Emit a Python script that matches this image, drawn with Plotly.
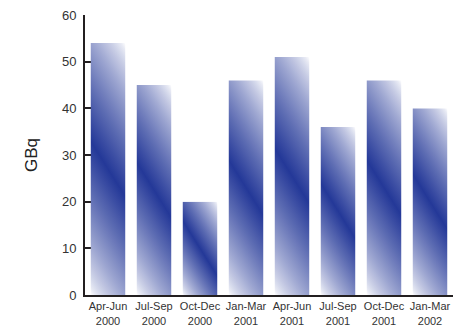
import base64
import plotly.graph_objects as go

# Quarterly activity, GBq
quarters = ["Apr-Jun<br>2000", "Jul-Sep<br>2000", "Oct-Dec<br>2000", "Jan-Mar<br>2001",
            "Apr-Jun<br>2001", "Jul-Sep<br>2001", "Oct-Dec<br>2001", "Jan-Mar<br>2002"]
gbq = [54, 45, 20, 46, 51, 36, 46, 40]
y_ticks = [0, 10, 20, 30, 40, 50, 60]

W, H = 455, 332
M = dict(l=85, r=2, t=15, b=37)
Y_MAX = 60
BAR_FRAC = 0.76
DARK = (36, 56, 152)
SLOPE = 1.6    # steepness of the colour bands across each bar
GAMMA = 0.75   # how long the fill stays blue before fading to the white corners

plot_w = W - M["l"] - M["r"]
plot_h = H - M["t"] - M["b"]
px_per_unit = plot_h / Y_MAX
cat_w = plot_w / len(quarters)


def stop_colour(t):
    mix = (1 - abs(2 * t - 1)) ** GAMMA
    r, g, b = (round(255 - mix * (255 - c)) for c in DARK)
    return f"rgb({r},{g},{b})"


STOPS = "".join(
    f'<stop offset="{i / 40:.3f}" stop-color="{stop_colour(i / 40)}"/>' for i in range(41)
)


def gradient_svg(w, h):
    # diagonal white -> dark blue -> white fill, white at bottom-left and top-right
    n = (SLOPE ** 2 + 1) ** 0.5
    ux, uy = SLOPE / n, -1 / n
    s = (SLOPE * w / 2 + h / 2) / n
    cx, cy = w / 2, h / 2
    x1, y1 = cx - s * ux, cy - s * uy
    x2, y2 = cx + s * ux, cy + s * uy
    svg = (
        f'<svg xmlns="http://www.w3.org/2000/svg" width="{w:.2f}" height="{h:.2f}" '
        f'viewBox="0 0 {w:.2f} {h:.2f}" preserveAspectRatio="none">'
        f'<defs><linearGradient id="g" gradientUnits="userSpaceOnUse" '
        f'x1="{x1:.2f}" y1="{y1:.2f}" x2="{x2:.2f}" y2="{y2:.2f}">{STOPS}'
        f'</linearGradient></defs>'
        f'<rect x="0" y="0" width="{w:.2f}" height="{h:.2f}" fill="url(#g)"/></svg>'
    )
    return "data:image/svg+xml;base64," + base64.b64encode(svg.encode()).decode()


fig = go.Figure()
fig.add_trace(go.Bar(
    x=list(range(len(quarters))), y=gbq,
    width=BAR_FRAC,
    marker=dict(color="rgba(0,0,0,0)", line=dict(width=0)),
    hovertemplate="%{y} GBq<extra></extra>",
))

images = []
for i, v in enumerate(gbq):
    images.append(dict(
        source=gradient_svg(BAR_FRAC * cat_w, v * px_per_unit),
        xref="x", yref="y",
        x=i - BAR_FRAC / 2, y=v,
        sizex=BAR_FRAC, sizey=v,
        xanchor="left", yanchor="top",
        sizing="stretch", layer="above",
    ))

axis_col = "#231f20"
fig.update_layout(
    width=W, height=H,
    margin=M,
    paper_bgcolor="white", plot_bgcolor="white",
    showlegend=False,
    images=images,
    font=dict(family="Liberation Sans, Arial, sans-serif", color="#333333"),
    xaxis=dict(
        range=[-0.5, len(quarters) - 0.5],
        tickmode="array", tickvals=list(range(len(quarters))), ticktext=quarters,
        tickfont=dict(size=11, color="#333333"),
        showline=True, linewidth=2, linecolor=axis_col,
        ticks="inside", ticklen=8, tickwidth=2, tickcolor=axis_col,
        showgrid=False, zeroline=False,
    ),
    yaxis=dict(
        range=[0, Y_MAX],
        tickmode="array", tickvals=y_ticks,
        tickfont=dict(size=13, color="#333333"),
        showline=True, linewidth=2, linecolor=axis_col,
        ticks="inside", ticklen=8, tickwidth=2, tickcolor=axis_col,
        ticklabelstandoff=4,
        showgrid=False, zeroline=False,
        title=dict(text="GBq", font=dict(size=17, color="#222222"), standoff=20),
    ),
)

# boundary ticks between quarters on the category axis
fig.update_xaxes(tickson="boundaries")

fig.write_html("out.html")
